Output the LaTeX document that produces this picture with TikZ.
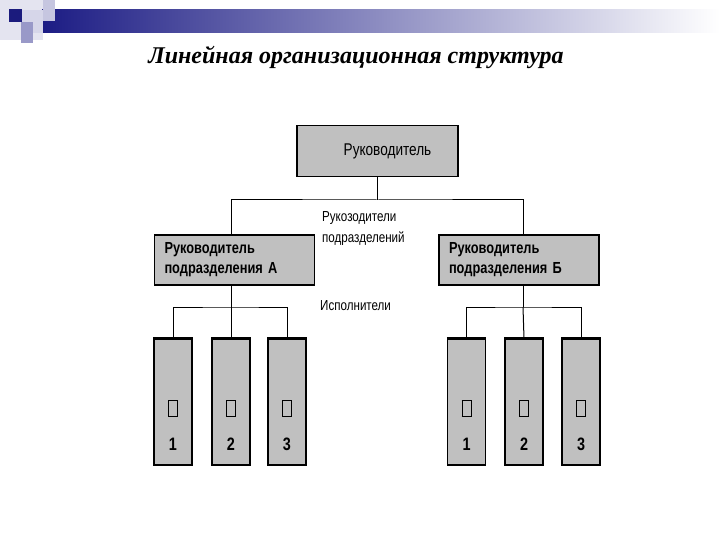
\documentclass[tikz,border=0pt]{standalone}
\usepackage{fontspec}
\setmainfont{Liberation Serif}
\newfontfamily\narrowfont[FakeStretch=0.8]{Liberation Sans}
\usetikzlibrary{positioning}

\definecolor{boxgray}{HTML}{C0C0C0}
\definecolor{barnavy}{HTML}{1C1C84}
\newcommand{\tofu}{{\setlength{\fboxsep}{0pt}\setlength{\fboxrule}{1pt}\fbox{\rule{0pt}{15pt}\hspace{8pt}}}}

\begin{document}
\begin{tikzpicture}[
    x=1pt, y=-1pt,
    box/.style={draw, line width=1.1pt, fill=boxgray, inner sep=0pt},
    bossbox/.style={box, minimum width=161pt, minimum height=51pt, font=\narrowfont\fontsize{17}{20}\selectfont},
    headbox/.style={box, minimum width=160pt, minimum height=50pt, text width=140pt, align=left,
        font=\narrowfont\bfseries\fontsize{16}{20}\selectfont},
    worker/.style={box, minimum width=38pt, minimum height=126pt},
    celltext/.style={align=center, inner sep=0pt, font=\narrowfont\bfseries\fontsize{18}{20}\selectfont},
    note/.style={align=left, inner sep=0pt, font=\narrowfont\fontsize{14.5}{21}\selectfont},
    wire/.style={line width=1pt}
]
\useasboundingbox (0,0) rectangle (720,540);

% header decoration
\fill[barnavy!12] (0,0) rectangle (43,40);
\shade[left color=barnavy, right color=white] (42,10) rectangle (720,33);
\fill[barnavy!25] (43,0) rectangle (55,21);
\fill[barnavy!18] (22,10) rectangle (43,33);
\fill[barnavy!45] (21,22) rectangle (33,43);
\fill[barnavy!95!black] (9,9) rectangle (22,22);

\node[font=\bfseries\itshape\fontsize{24}{28}\selectfont] (title) at (356,57)
    {Линейная организационная структура};

% boxes
\node[bossbox] (boss) at (377.5,151) {\hspace{20pt}Руководитель};
\node[headbox] (headA) at (234.5,260) {Руководитель\\подразделения А};
\node[headbox] (headB) at (519,260) {Руководитель\\подразделения Б};

\node[worker] (a1) at (173,402) {};
\node[worker] (a2) at (231,402) {};
\node[worker] (a3) at (287,402) {};
\node[worker] (b1) at (466.5,402) {};
\node[worker] (b2) at (524,402) {};
\node[worker] (b3) at (581,402) {};

\node[celltext, above=15pt of a1.south] (na1) {\tofu\\[14pt]1};
\node[celltext, above=15pt of a2.south] (na2) {\tofu\\[14pt]2};
\node[celltext, above=15pt of a3.south] (na3) {\tofu\\[14pt]3};
\node[celltext, above=15pt of b1.south] (nb1) {\tofu\\[14pt]1};
\node[celltext, above=15pt of b2.south] (nb2) {\tofu\\[14pt]2};
\node[celltext, above=15pt of b3.south] (nb3) {\tofu\\[14pt]3};

% thick top edges
\foreach \w in {a1,a2,a3,b1,b2,b3}
    \draw[line width=2pt] (\w.north west) -- (\w.north east);

% labels
\node[note, anchor=north west] (heads) at (322,211) {Рукозодители\\подразделений};
\node[note, anchor=north west] (staff) at (320,300) {Исполнители};

% connectors
\coordinate (bus) at (377.5,200);
\coordinate (busA) at (231,307);
\coordinate (busB) at (523,307);
\draw[wire] (boss.south) -- (bus);
\draw[wire] (headA.north -| busA) |- (bus) -| (headB.north -| busB);
\draw[wire] (headA.south -| busA) -- (busA);
\draw[wire] (headB.south -| busB) -- (busB);
\draw[wire] (a1.north) |- (busA) -| (a3.north);
\draw[wire] (busA) -- (a2.north);
\draw[wire] (b1.north) |- (busB) -| (b3.north);
\draw[wire] (busB) -- (b2.north);
\end{tikzpicture}
\end{document}
